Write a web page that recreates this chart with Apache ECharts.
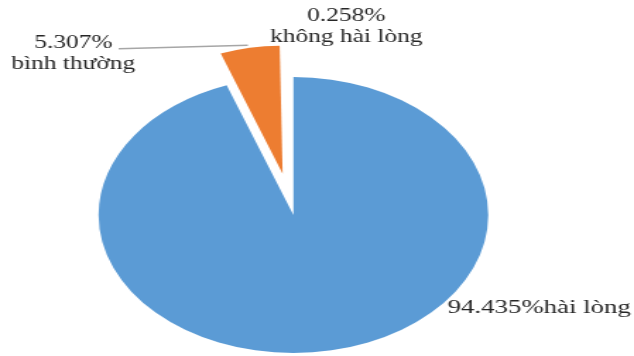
<!DOCTYPE html>
<html><head><meta charset="utf-8">
<script src="https://cdn.jsdelivr.net/npm/echarts@6/dist/echarts.min.js"></script>
<style>
html,body{margin:0;padding:0;background:#fff;overflow:hidden;}
#wrap{width:634px;height:356px;overflow:hidden;position:relative;}
#chart{width:449px;height:356px;transform:scaleX(1.412);transform-origin:0 0;}
</style></head>
<body><div id="wrap"><div id="chart"></div></div>
<script>
const categories = ['hài lòng', 'bình thường', 'không hài lòng'];
const values = [94.435, 5.307, 0.258];
const colors = ['#5B9BD5', '#ED7D31', '#A5A5A5'];

const chart = echarts.init(document.getElementById('chart'), null, {renderer: 'canvas'});
const CX = 207.8, CY = 215;
const fmt = v => v.toFixed(3) + '%';

// label anchor positions (unscaled chart coords)
const labelPos = [
  {x: 317, y: 308.5, align: 'left', verticalAlign: 'middle'},
  {x: 51.9, y: 53.5, align: 'center', verticalAlign: 'middle',
   line: [[175.5, 45.3], [175.5, 45.3], [84, 48.8]]},
  {x: 245.2, y: 27, align: 'center', verticalAlign: 'middle'}
];

const baseData = categories.map((c, i) => ({
  name: c, value: values[i],
  itemStyle: {color: i === 0 ? colors[0] : 'rgba(0,0,0,0)'},
  label: i === 0 ? {fontSize: 19} : {},
  labelLine: {show: i === 1, lineStyle: {color: '#A6A6A6', width: 1.5}}
}));
const explodedData = categories.map((c, i) => ({
  name: c, value: values[i], selected: i === 1,
  itemStyle: {color: i === 1 ? colors[1] : 'rgba(0,0,0,0)'}
}));

chart.setOption({
  animation: false,
  series: [
    {
      type: 'pie', center: [CX, CY], radius: 138, startAngle: 90, clockwise: true,
      avoidLabelOverlap: false, silent: true,
      itemStyle: {borderWidth: 0},
      label: {
        show: true, position: 'outside',
        fontFamily: 'Liberation Serif', fontSize: 18, lineHeight: 21, color: '#262626',
        formatter: p => p.dataIndex === 0 ? fmt(p.value) + p.name : fmt(p.value) + '\n' + p.name
      },
      labelLine: {show: false},
      labelLayout: p => {
        const lp = labelPos[p.dataIndex];
        const r = {x: lp.x, y: lp.y, align: lp.align, verticalAlign: lp.verticalAlign};
        if (lp.line) r.labelLinePoints = lp.line;
        return r;
      },
      data: baseData
    },
    {
      type: 'pie', center: [CX, CY], radius: 128, startAngle: 90, clockwise: true,
      selectedMode: 'single', selectedOffset: 42, silent: true,
      itemStyle: {borderWidth: 0},
      label: {show: false}, labelLine: {show: false},
      data: explodedData
    }
  ]
});
</script></body></html>
